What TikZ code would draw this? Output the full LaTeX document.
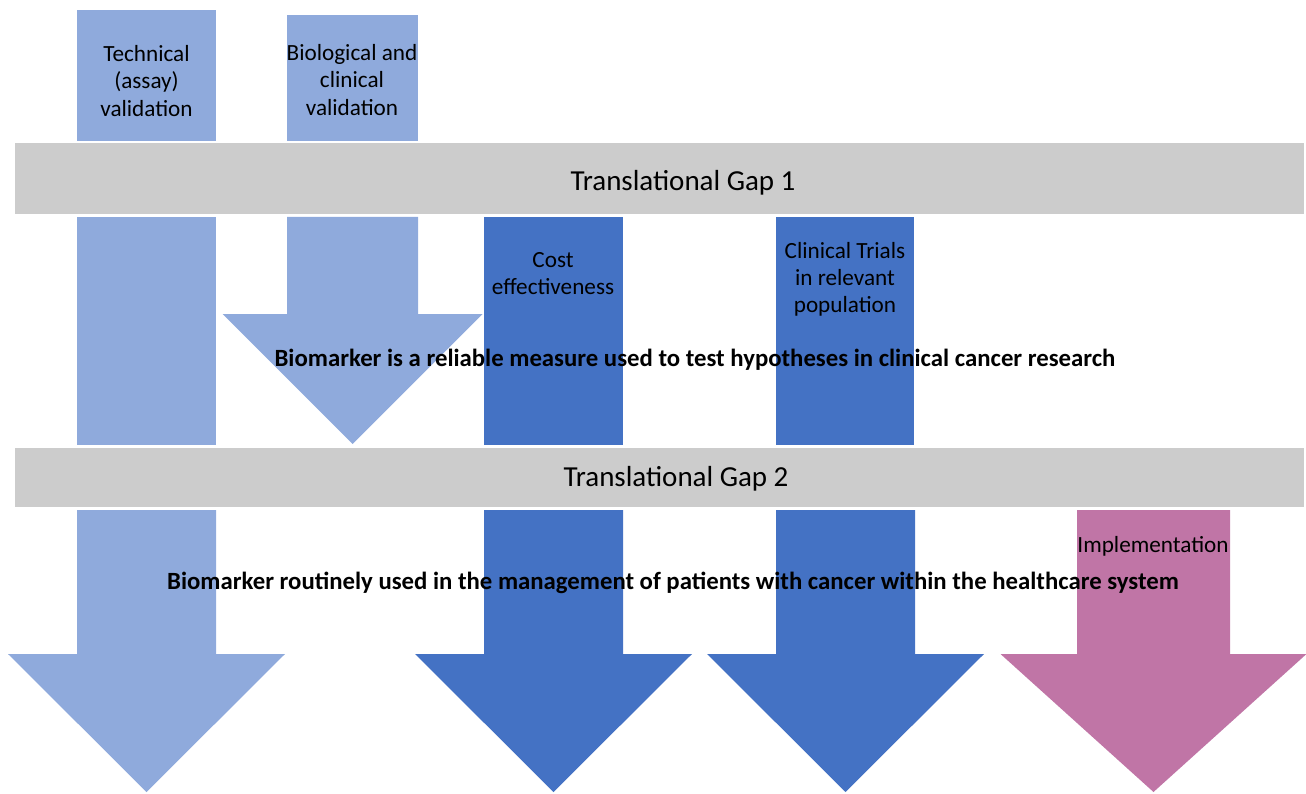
\documentclass[tikz,border=0pt]{standalone}
\usepackage{fontspec}
\setmainfont{Carlito}
\usepackage{tikz}

\definecolor{lightblue}{HTML}{8FAADC}
\definecolor{darkblue}{HTML}{4472C4}
\definecolor{gapgray}{HTML}{CCCCCC}
\definecolor{stagepink}{HTML}{C075A6}

\tikzset{
	boxtext/.style={align=center, inner sep=0pt, font=\fontsize{13.2}{15.4}\selectfont},
	gaptext/.style={inner sep=0pt, font=\fontsize{16.5}{19}\selectfont},
	resulttext/.style={inner sep=0pt, font=\bfseries\fontsize{14.1}{16}\selectfont}
}

% colour, centre x, shaft half width, top, head y, head half width, tip y
\newcommand{\bigarrow}[7]{\fill[#1] (#2-#3,#4) -- (#2+#3,#4) -- (#2+#3,#5) -- (#2+#6,#5) -- (#2,#7) -- (#2-#6,#5) -- (#2-#3,#5) -- cycle;}

\begin{document}
\begin{tikzpicture}[x=0.02cm, y=-0.02cm]
	\useasboundingbox (0,0) rectangle (1306,794);
	% validation boxes
	\fill[lightblue] (77,10) rectangle (216,141);
	\fill[lightblue] (287,15) rectangle (418,141);
	\node at (146.5,81) [boxtext] (tech) {Technical\\(assay)\\validation};
	\node at (352,80) [boxtext] (bio) {Biological and\\clinical\\validation};
	% gap 1
	\fill[gapgray] (15,143) rectangle (1304,214);
	\node at (683,183) [gaptext] (gap1) {Translational Gap 1};
	% between the gaps
	\fill[lightblue] (77,217) rectangle (216,445);
	\bigarrow{lightblue}{352.5}{65.5}{217}{314}{130}{444}
	\fill[darkblue] (484,217) rectangle (623,445);
	\fill[darkblue] (776,217) rectangle (914,445);
	\node at (553,274) [boxtext] (cost) {Cost\\effectiveness};
	\node at (845,279) [boxtext] (trials) {Clinical Trials\\in relevant\\population};
	\node at (695,360) [resulttext] (reliable) {Biomarker is a reliable measure used to test hypotheses in clinical cancer research};
	% gap 2
	\fill[gapgray] (15,448) rectangle (1304,507);
	\node at (676,479) [gaptext] (gap2) {Translational Gap 2};
	% after gap 2
	\bigarrow{lightblue}{146.5}{69.5}{510}{654}{138.5}{792}
	\bigarrow{darkblue}{553.5}{69.5}{510}{654}{138.5}{792}
	\bigarrow{darkblue}{845.5}{69.5}{510}{654}{138.5}{792}
	\bigarrow{stagepink}{1153.5}{76.5}{510}{654}{153}{792}
	\node at (1153,546) [boxtext] (impl) {Implementation};
	\node at (673,583) [resulttext] (routine) {Biomarker routinely used in the management of patients with cancer within the healthcare system};
\end{tikzpicture}
\end{document}
